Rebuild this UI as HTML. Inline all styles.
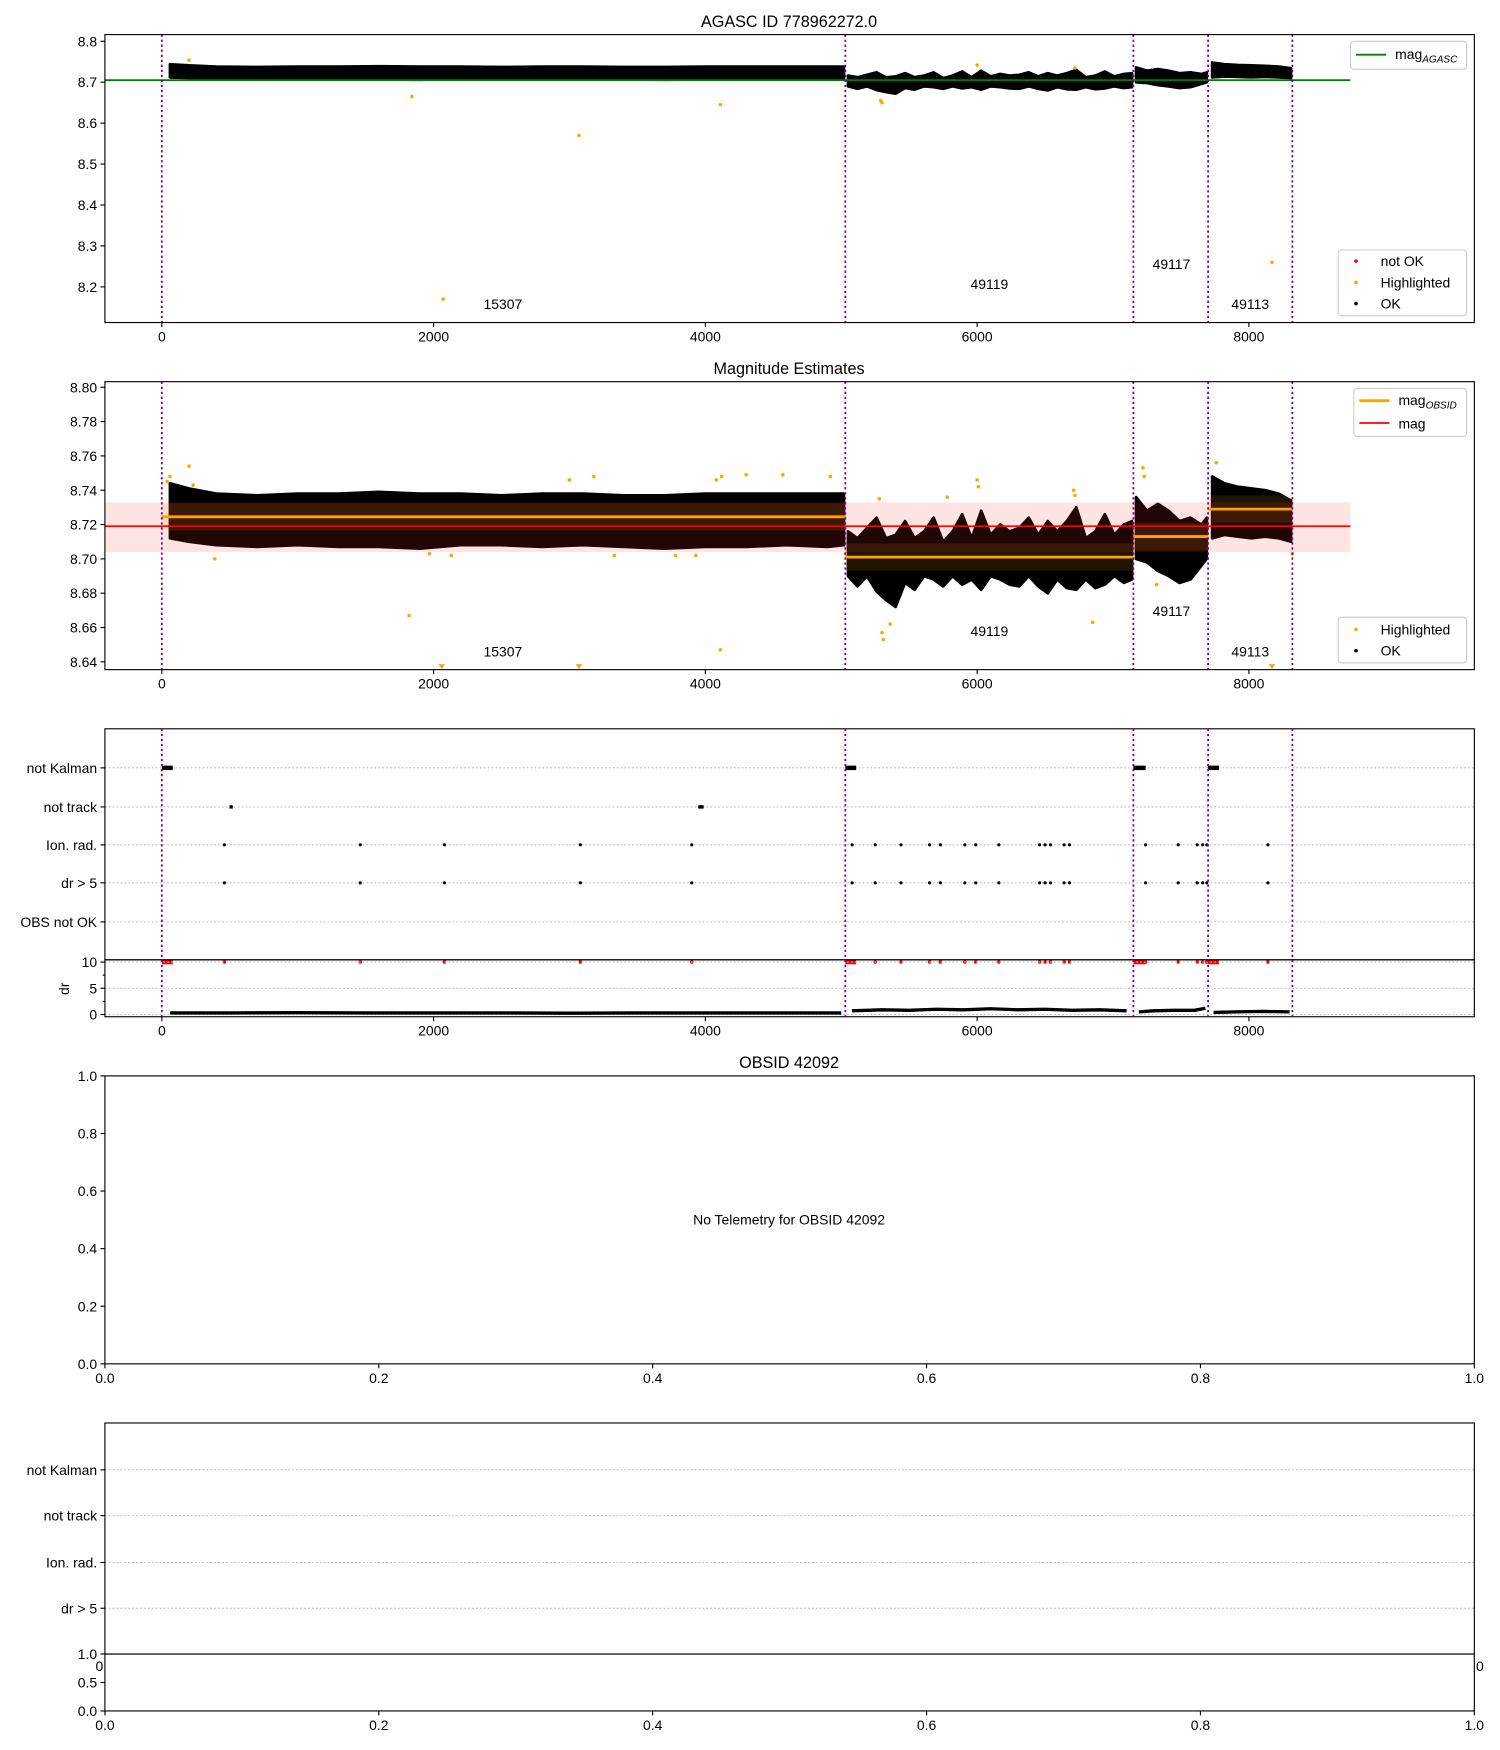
<!DOCTYPE html>
<html><head><meta charset="utf-8"><style>
html,body{margin:0;padding:0;background:#fff}
svg{display:block;font-family:"Liberation Sans","DejaVu Sans",sans-serif}
</style></head><body>
<svg id="fig" width="1500" height="1750" viewBox="0 0 1344 1568" preserveAspectRatio="none" xmlns="http://www.w3.org/2000/svg">
<rect width="1344" height="1568" fill="#fff"/>
</svg>
<script>
// ---- data ----
const obsBoundaries = [0, 5030, 7150, 7700, 8320];
const obsLabels = ["15307", "49119", "49117", "49113"];
const obsLabelT = [2510, 6090, 7430, 8010];
const obsMean = [8.7245, 8.701, 8.713, 8.729];
const obsStart = [0, 5030, 7150, 7700];
const obsEnd = [5030, 7150, 7700, 8320];
const magMean = 8.719, magLo = 8.704, magHi = 8.733;
const magAgasc = 8.705;
// band of OK points: time, low mag, high mag
const bandT  = [60,200,400,700,1000,1300,1600,1900,2200,2500,2800,3100,3400,3700,4000,4300,4600,4900,5020,
  5050,5120,5190,5260,5330,5400,5470,5540,5610,5680,5750,5820,5890,5960,6030,6100,6170,6240,6310,6380,6450,6520,6590,6660,6730,6800,6870,6940,7010,7080,7140,
  7170,7250,7330,7410,7490,7570,7650,7690,
  7730,7820,7920,8020,8120,8220,8310];
const bandLo = [8.712,8.710,8.708,8.707,8.708,8.707,8.707,8.706,8.708,8.708,8.707,8.708,8.707,8.706,8.707,8.707,8.708,8.707,8.708,
  8.690,8.684,8.690,8.681,8.676,8.672,8.686,8.682,8.690,8.688,8.684,8.690,8.685,8.688,8.682,8.690,8.688,8.685,8.684,8.690,8.684,8.680,8.688,8.683,8.682,8.688,8.683,8.685,8.690,8.686,8.688,
  8.700,8.698,8.693,8.690,8.686,8.688,8.696,8.700,
  8.712,8.714,8.713,8.712,8.713,8.712,8.710];
const bandHi = [8.744,8.741,8.738,8.737,8.738,8.738,8.739,8.738,8.738,8.737,8.738,8.738,8.737,8.737,8.738,8.738,8.738,8.738,8.738,
  8.716,8.712,8.718,8.724,8.712,8.714,8.722,8.712,8.716,8.724,8.710,8.716,8.726,8.712,8.728,8.714,8.720,8.716,8.718,8.724,8.714,8.722,8.716,8.722,8.730,8.712,8.716,8.726,8.714,8.720,8.722,
  8.736,8.728,8.732,8.728,8.722,8.724,8.720,8.724,
  8.748,8.744,8.742,8.741,8.740,8.738,8.734];
const hiT   = [40,60,200,230,390,1820,1970,2130,3000,3180,3330,3780,3930,4080,4110,4120,4300,4570,4920,5030,5280,5300,5310,5360,5780,6000,6010,6710,6720,6850,7220,7230,7320,7760,8320];
const hiMag = [8.745,8.748,8.754,8.743,8.700,8.667,8.703,8.702,8.746,8.748,8.702,8.702,8.702,8.746,8.647,8.748,8.749,8.749,8.748,8.703,8.735,8.657,8.653,8.662,8.736,8.746,8.742,8.740,8.737,8.663,8.753,8.748,8.685,8.756,8.703];
const lowTriT = [2060, 3070, 8170];
const p1HiT   = [1840, 2070, 3070, 4110, 5290, 5300, 8170, 6000, 6720, 200];
const p1HiMag = [8.665, 8.17, 8.57, 8.645, 8.655, 8.650, 8.26, 8.742, 8.735, 8.754];
const kalmanRanges = [[0,80],[5030,5110],[7150,7240],[7700,7780]];
const notTrackT = [510, 3960, 3975];
const ionRadT = [460,1460,2080,3080,3900,5080,5250,5440,5650,5730,5910,5990,6160,6460,6500,6540,6640,6680,7240,7480,7620,7660,7690,8140];
const drT = [60,500,1000,1500,2000,2500,3000,3500,4000,4500,5000,5080,5300,5500,5700,5900,6100,6300,6500,6700,6900,7100,7190,7300,7450,7600,7680,7740,7900,8100,8300];
const drV = [0.3,0.3,0.35,0.3,0.3,0.3,0.25,0.3,0.3,0.3,0.3,0.7,0.9,0.8,1.0,0.9,1.1,0.9,1.0,0.8,0.9,0.7,0.5,0.7,0.8,0.8,1.2,0.4,0.5,0.6,0.5];
const catLabels = ["not Kalman","not track","Ion. rad.","dr > 5","OBS not OK"];

// ---- helpers ----
const svg = document.getElementById('fig');
const NS = 'http://www.w3.org/2000/svg';
function el(tag, attrs, parent){ const e=document.createElementNS(NS,tag); for(const k in attrs) e.setAttribute(k,attrs[k]); (parent||svg).appendChild(e); return e; }
function txt(x,y,s,size,anchor,parent){ const t=el('text',{x:x,y:y,'font-size':size||12.5,'text-anchor':anchor||'middle',fill:'#000'},parent); t.textContent=s; return t; }
const X0=94, X1=1321;
const xT = t => 145 + t*0.12175;
const xU = u => X0 + u*(X1-X0);

function frame(y0,y1,name){ const r=el('rect',{x:X0,y:y0,width:X1-X0,height:y1-y0,fill:'none',stroke:'#000','stroke-width':1});   }
function xTicksTime(yb){ [0,2000,4000,6000,8000].forEach(v=>{ el('line',{x1:xT(v),x2:xT(v),y1:yb,y2:yb+4,stroke:'#000'}); const t=txt(xT(v),yb+17,String(v));   }); }
function vlines(y0,y1){ obsBoundaries.forEach(t=>{ const l=el('line',{x1:xT(t),x2:xT(t),y1:y0,y2:y1,stroke:'#800080','stroke-width':1.6,'stroke-dasharray':'2,2.5'});   }); }
function yTick(y,label,size){ el('line',{x1:X0-4,x2:X0,y1:y,y2:y,stroke:'#000'}); const t=txt(X0-7,y+4.5,label,size||12.5,'end');   }

function magPanel(y0,y1,yScale,ticks,dec,pn,hiTs,hiMs,showTri){
  const g=el('g',{});  
  for(let s=0;s<obsStart.length;s++){
    const idx=bandT.map((t,i)=>i).filter(i=>bandT[i]>=obsStart[s]&&bandT[i]<=obsEnd[s]);
    const up=idx.map(i=>xT(bandT[i])+','+yScale(bandHi[i]));
    const dn=idx.slice().reverse().map(i=>xT(bandT[i])+','+yScale(bandLo[i]));
    const p=el('polygon',{points:up.concat(dn).join(' '),fill:'#000',stroke:'#000','stroke-width':2.5,'stroke-linejoin':'round'},g);
     
  }
  hiTs.forEach((t,i)=>{ const y=yScale(hiMs[i]); if(y<y0||y>y1) return; const c=el('circle',{cx:xT(t),cy:y,r:1.6,fill:'orange'},g);   });
  if(showTri) lowTriT.forEach(t=>{ const x=xT(t); const p=el('polygon',{points:`${x-3},${y1-5} ${x+3},${y1-5} ${x},${y1-0.5}`,fill:'orange'},g);   });
  ticks.forEach(v=>yTick(yScale(v),v.toFixed(dec)));
}

// ---- Panel 1 ----
const y1s = m => 37 + (8.8-m)*366.7;
txt(707,24,'AGASC ID 778962272.0',14.5);
magPanel(31,289,y1s,[8.8,8.7,8.6,8.5,8.4,8.3,8.2],1,'panel1',p1HiT,p1HiMag,false);
{
 const l=el('line',{x1:X0,x2:1210,y1:y1s(magAgasc),y2:y1s(magAgasc),stroke:'green','stroke-width':1.6});  
}
vlines(31,289);
obsLabels.forEach((s,i)=>{ const yy=[277,259,241,277][i]; const t=txt(xT(obsLabelT[i]),yy,s);  });
frame(31,289,'panel1-axes'); xTicksTime(289);
{ const g=el('g',{});  
  el('rect',{x:1210,y:37,width:104,height:25,rx:3,fill:'#fff',stroke:'#ccc'},g);
  el('line',{x1:1215,x2:1242,y1:49,y2:49,stroke:'green','stroke-width':1.6},g);
  const t=el('text',{x:1250,y:53,'font-size':12.5},g); t.innerHTML='mag<tspan font-size="9" font-style="italic" dy="3">AGASC</tspan>'; }
{ const g=el('g',{});  
  el('rect',{x:1199,y:224,width:115,height:59,rx:3,fill:'#fff',stroke:'#ccc'},g);
  [['not OK','red',234],['Highlighted','orange',253],['OK','#000',272]].forEach(a=>{ el('circle',{cx:1215,cy:a[2],r:1.6,fill:a[1]},g); txt(1237,a[2]+4.5,a[0],12.5,'start',g); }); }

// ---- Panel 2 ----
const y2s = m => 347 + (8.80-m)*1537.5;
txt(707,335,'Magnitude Estimates',14.5);
magPanel(342,600,y2s,[8.80,8.78,8.76,8.74,8.72,8.70,8.68,8.66,8.64],2,'panel2',hiT,hiMag,true);
{ const r=el('rect',{x:X0,y:y2s(magHi),width:1210-X0,height:y2s(magLo)-y2s(magHi),fill:'#ff3030','fill-opacity':0.13});  
  obsStart.forEach((s,i)=>{ const r2=el('rect',{x:xT(s),y:y2s(obsMean[i]+0.008),width:xT(obsEnd[i])-xT(s),height:y2s(obsMean[i]-0.008)-y2s(obsMean[i]+0.008),fill:'orange','fill-opacity':0.12});   }); }
obsStart.forEach((s,i)=>{ const l=el('line',{x1:xT(s),x2:xT(obsEnd[i]),y1:y2s(obsMean[i]),y2:y2s(obsMean[i]),stroke:'orange','stroke-width':2.5});   });
{ const l=el('line',{x1:X0,x2:1210,y1:y2s(magMean),y2:y2s(magMean),stroke:'red','stroke-width':1.6});   }
vlines(342,600);
obsLabels.forEach((s,i)=>{ const yy=[588,570,552,588][i]; const t=txt(xT(obsLabelT[i]),yy,s);  });
frame(342,600,'panel2-axes'); xTicksTime(600);
{ const g=el('g',{});  
  el('rect',{x:1213,y:348,width:101,height:43,rx:3,fill:'#fff',stroke:'#ccc'},g);
  el('line',{x1:1218,x2:1245,y1:359,y2:359,stroke:'orange','stroke-width':2.5},g);
  const t=el('text',{x:1253,y:363,'font-size':12.5},g); t.innerHTML='mag<tspan font-size="9" font-style="italic" dy="3">OBSID</tspan>';
  el('line',{x1:1218,x2:1245,y1:379,y2:379,stroke:'red','stroke-width':1.6},g);
  txt(1253,384,'mag',12.5,'start',g); }
{ const g=el('g',{});  
  el('rect',{x:1199,y:553,width:115,height:41,rx:3,fill:'#fff',stroke:'#ccc'},g);
  [['Highlighted','orange',564],['OK','#000',583]].forEach(a=>{ el('circle',{cx:1215,cy:a[2],r:1.6,fill:a[1]},g); txt(1237,a[2]+4.5,a[0],12.5,'start',g); }); }

// ---- Panel 3 (flags) ----
function flagPanel(y0,yDiv,y1,catYs,labels,withData){
  labels.forEach((s,i)=>{ el('line',{x1:X0,x2:X1,y1:catYs[i],y2:catYs[i],stroke:'#bbb','stroke-dasharray':'1.5,2'}); yTick(catYs[i],s); });
  if(withData){
    const yc=catYs;
    kalmanRanges.forEach(r=>{ const e=el('rect',{x:xT(r[0]),y:yc[0]-2,width:xT(r[1])-xT(r[0]),height:4,fill:'#000'});  
      const e2=el('rect',{x:xT(r[0]),y:862-2,width:xT(r[1])-xT(r[0]),height:4,fill:'red'});   });
    notTrackT.forEach(t=>{ const c=el('rect',{x:xT(t)-1.5,y:yc[1]-1.5,width:3,height:3,fill:'#000'});   });
    ionRadT.forEach(t=>{ [2,3].forEach(k=>{ const c=el('circle',{cx:xT(t),cy:yc[k],r:1.4,fill:'#000'});   });
      const c=el('circle',{cx:xT(t),cy:862,r:1.6,fill:'red'});   });
  }
  frame(y0,yDiv,'flags-axes');
}
flagPanel(653,860,911,[688,723,757,791,826],catLabels,true);
{ const yd = v => 909 - v*4.7;
  [10,5,0].forEach(v=>{ el('line',{x1:X0,x2:X1,y1:yd(v),y2:yd(v),stroke:'#bbb','stroke-dasharray':'1.5,2'}); yTick(yd(v),String(v)); });
  [2.5,7.5].forEach(v=>el('line',{x1:X0-2,x2:X0,y1:yd(v),y2:yd(v),stroke:'#000'}));
  for(let s=0;s<obsStart.length;s++){
    const idx=drT.map((t,i)=>i).filter(i=>drT[i]>obsStart[s]+30&&drT[i]<=obsEnd[s]+5);
    const pl=el('polyline',{points:idx.map(i=>xT(drT[i])+','+yd(drV[i])).join(' '),fill:'none',stroke:'#000','stroke-width':3,'stroke-linejoin':'round'});
     
  }
  const t=txt(0,0,'dr',12.5); t.setAttribute('transform','translate(62,886) rotate(-90)'); 
  frame(860,911,'dr-axes');
}
vlines(653,911);
xTicksTime(911);

// ---- Panel 4 ----
txt(707,957,'OBSID 42092',14.5);
frame(964,1222,'panel4-axes');
const y4 = v => 1222 - v*258;
[0,0.2,0.4,0.6,0.8,1.0].forEach(v=>{ yTick(y4(v),v.toFixed(1)); el('line',{x1:xU(v),x2:xU(v),y1:1222,y2:1226,stroke:'#000'}); txt(xU(v),1239,v.toFixed(1)); });
txt(707,1097,'No Telemetry for OBSID 42092',12.5);

// ---- Panel 5 ----
flagPanel(1275,1482,1533,[1317,1358,1400,1441],catLabels.slice(0,4),false);
{ const y5 = v => 1533 - v*51;
  [0,0.5,1.0].forEach(v=>yTick(y5(v),v.toFixed(1)));
  frame(1482,1533,'panel5-sub-axes');
  [0,0.2,0.4,0.6,0.8,1.0].forEach(v=>{ el('line',{x1:xU(v),x2:xU(v),y1:1533,y2:1537,stroke:'#000'}); txt(xU(v),1550,v.toFixed(1)); });
  txt(89,1497,'0',12.5,'middle'); txt(1326,1497,'0',12.5,'middle');
}
</script>
</body></html>
